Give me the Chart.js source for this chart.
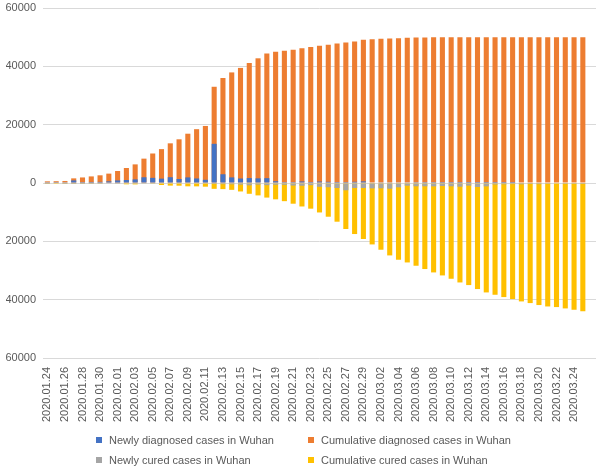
<!DOCTYPE html>
<html>
<head>
<meta charset="utf-8">
<script src="https://cdn.jsdelivr.net/npm/chart.js@4/dist/chart.umd.min.js"></script>
<style>
  html, body { margin: 0; padding: 0; background: #fff; }
  #wrap { position: relative; width: 600px; height: 469px; }
  #legend { position: absolute; left: 0; top: 0; width: 600px; height: 469px; pointer-events: none;
    font: 11px "Liberation Sans", Arial, sans-serif; color: #595959; }
  .item { position: absolute; white-space: nowrap; line-height: 14px; }
  .box { display: inline-block; width: 6px; height: 6px; margin-right: 7px; vertical-align: 1px; }
</style>
</head>
<body>
<div id="wrap">
  <canvas id="chart" width="600" height="469"></canvas>
  <div id="legend"></div>
</div>
<script>
// dates shown on the x axis (one bar per day)
var dates = [
  '2020.01.24','2020.01.25','2020.01.26','2020.01.27','2020.01.28','2020.01.29','2020.01.30','2020.01.31',
  '2020.02.01','2020.02.02','2020.02.03','2020.02.04','2020.02.05','2020.02.06','2020.02.07','2020.02.08',
  '2020.02.09','2020.02.10','2020.02.11','2020.02.12','2020.02.13','2020.02.14','2020.02.15','2020.02.16',
  '2020.02.17','2020.02.18','2020.02.19','2020.02.20','2020.02.21','2020.02.22','2020.02.23','2020.02.24',
  '2020.02.25','2020.02.26','2020.02.27','2020.02.28','2020.02.29','2020.03.01','2020.03.02','2020.03.03',
  '2020.03.04','2020.03.05','2020.03.06','2020.03.07','2020.03.08','2020.03.09','2020.03.10','2020.03.11',
  '2020.03.12','2020.03.13','2020.03.14','2020.03.15','2020.03.16','2020.03.17','2020.03.18','2020.03.19',
  '2020.03.20','2020.03.21','2020.03.22','2020.03.23','2020.03.24','2020.03.25'
];

var newDiagnosed = [
  77, 46, 80, 892, 315, 356, 378, 576, 894, 1033, 1242, 1967, 1766, 1501, 1985, 1379,
  1920, 1552, 1104, 13436, 2997, 1923, 1548, 1690, 1600, 1660, 615, 319, 314, 541, 348, 499,
  401, 334, 318, 420, 565, 193, 111, 114, 131, 126, 74, 41, 36, 17, 13, 8,
  5, 4, 4, 4, 1, 1, 0, 0, 0, 0, 0, 0, 0, 0
];

var cumDiagnosed = [
  572, 618, 698, 1590, 1905, 2261, 2639, 3215, 4109, 5142, 6384, 8351, 10117, 11618, 13603, 14982,
  16902, 18454, 19558, 32994, 35991, 37914, 39462, 41152, 42752, 44412, 45027, 45346, 45660, 46201, 46607, 47071,
  47441, 47824, 48137, 48557, 49122, 49315, 49426, 49540, 49671, 49797, 49871, 49912, 49948, 49965, 49978, 49986,
  49991, 49995, 49999, 50003, 50004, 50005, 50005, 50005, 50005, 50005, 50005, 50006, 50006, 50006
];

// cured counts are drawn below zero
var newCured = [
  1, 0, 7, 3, 5, 13, 20, 91, 53, 150, 60, 80, 90, 190, 210, 130,
  210, 150, 110, 350, 400, 450, 550, 800, 550, 750, 600, 630, 870, 950, 750, 1300,
  1460, 1710, 2500, 1720, 1710, 1850, 1820, 1950, 1480, 930, 1130, 1130, 1160, 1030, 1140, 1270,
  900, 1360, 1160, 500, 450, 400, 450, 350, 400, 300, 200, 300, 300, 350
];

var cumCured = [
  32, 32, 39, 42, 47, 60, 80, 171, 224, 450, 480, 200, 250, 690, 900, 930,
  1140, 1150, 1260, 2000, 2100, 2350, 2900, 3700, 4250, 5000, 5600, 6230, 7100, 8050, 8800, 10100,
  11560, 13270, 15780, 17500, 19210, 21060, 22880, 24830, 26310, 27240, 28370, 29500, 30660, 31690, 32830, 34100,
  35000, 36360, 37520, 38320, 39110, 39790, 40600, 41170, 41850, 42330, 42540, 43000, 43460, 44000
];

var yTicks = [-60000, -40000, -20000, 0, 20000, 40000, 60000];

var FONT = '"Liberation Sans", Arial, sans-serif';
var TEXT = '#595959';

// Excel leaves one empty category slot after the last day
var labels = dates.concat(['']);

var datasets = [
  { label: 'Newly diagnosed cases in Wuhan', data: newDiagnosed, backgroundColor: '#4472C4' },
  { label: 'Cumulative diagnosed cases in Wuhan', data: cumDiagnosed, backgroundColor: '#ED7D31' },
  { label: 'Newly cured cases in Wuhan', data: newCured.map(function(v) { return -v; }), backgroundColor: '#A5A5A5' },
  { label: 'Cumulative cured cases in Wuhan', data: cumCured.map(function(v) { return -v; }), backgroundColor: '#FFC000' }
];
datasets.forEach(function(d) {
  d.grouped = false;
  d.categoryPercentage = 1;
  d.barPercentage = 0.58;
  d.borderWidth = 0;
});

var ctx = document.getElementById('chart');
var myChart = new Chart(ctx, {
  type: 'bar',
  data: { labels: labels, datasets: datasets },
  options: {
    responsive: false,
    animation: false,
    layout: { padding: { left: 6, right: 4, top: 8, bottom: 46 } },
    plugins: { legend: { display: false }, tooltip: { enabled: false } },
    scales: {
      x: {
        grid: { display: false, drawTicks: false },
        border: { display: false },
        afterFit: function(axis) {
          // keep the plot area full width, like the Excel original
          axis.paddingLeft = 0;
          axis.paddingRight = 0;
          axis.height = 65;
        },
        ticks: {
          autoSkip: false,
          maxRotation: 90,
          minRotation: 90,
          padding: 9,
          color: TEXT,
          font: { family: FONT, size: 11 },
          callback: function(value, index) {
            return index % 2 === 0 ? this.getLabelForValue(value) : '';
          }
        }
      },
      y: {
        min: -60000,
        max: 60000,
        afterBuildTicks: function(axis) {
          axis.ticks = yTicks.map(function(v) { return { value: v }; });
        },
        afterFit: function(axis) {
          axis.width = 37;
          axis.paddingTop = 0;
          axis.paddingBottom = 0;
        },
        grid: { color: '#d9d9d9', lineWidth: 1, drawTicks: false },
        border: { display: false },
        ticks: {
          padding: 7,
          color: TEXT,
          font: { family: FONT, size: 11 },
          callback: function(v) { return String(Math.abs(v)); }
        }
      }
    }
  }
});

// two-by-two legend under the axis, as in the original
var legendPos = [
  { x: 96, y: 433 }, { x: 308, y: 433 },
  { x: 96, y: 453 }, { x: 308, y: 453 }
];
var legend = document.getElementById('legend');
datasets.forEach(function(d, i) {
  var item = document.createElement('div');
  item.className = 'item';
  item.style.left = legendPos[i].x + 'px';
  item.style.top = legendPos[i].y + 'px';
  var box = document.createElement('span');
  box.className = 'box';
  box.style.background = d.backgroundColor;
  item.appendChild(box);
  item.appendChild(document.createTextNode(d.label));
  legend.appendChild(item);
});
</script>
</body>
</html>
